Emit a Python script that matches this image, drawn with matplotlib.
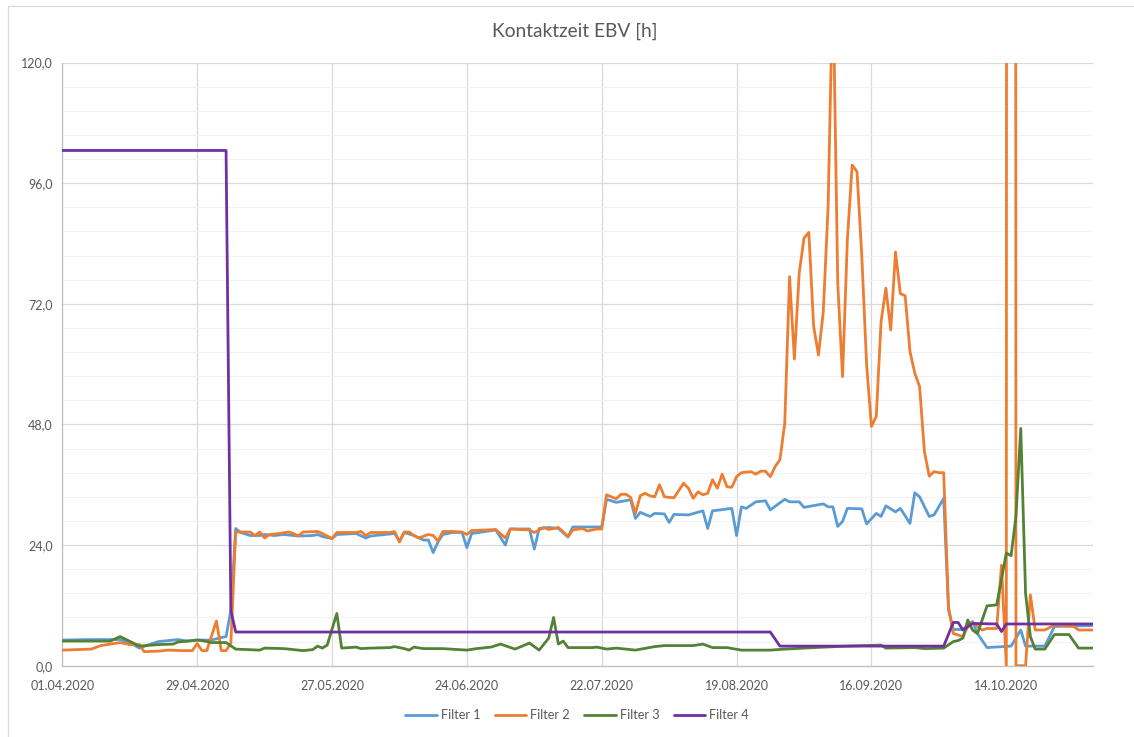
import numpy as np
import matplotlib
matplotlib.use("Agg")
import matplotlib.pyplot as plt
import matplotlib.dates as mdates
from matplotlib.patches import Rectangle
from matplotlib.ticker import MultipleLocator, FuncFormatter

plt.rcParams['font.family'] = ['Lato', 'DejaVu Sans']

title = "Kontaktzeit EBV [h]"
start = np.datetime64('2020-04-01')
series_names = ["Filter 1", "Filter 2", "Filter 3", "Filter 4"]
series_colors = ["#5B9BD5", "#ED7D31", "#548235", "#7030A0"]

# day offsets from 01.04.2020 and values (h)
f1_days = [0, 6, 12, 14, 16, 18, 20, 24, 26, 28, 31, 33, 34, 35, 36, 37, 39, 41, 42, 44, 46, 48, 49, 52, 53, 54, 56, 57,
           61, 63, 64, 67, 69, 70, 71, 73, 75, 76, 77, 78, 79, 81, 83, 84, 85, 90, 92, 93, 97, 98, 99, 101, 103, 105,
           106, 111, 112, 113, 115, 118, 119, 120, 122, 123, 125, 126, 127, 130, 133, 134, 135, 139, 140, 141, 142,
           144, 146, 147, 150, 151, 153, 154, 158, 159, 160, 161, 162, 163, 166, 167, 169, 170, 171, 173, 174, 176,
           177, 178, 180, 181, 183, 184, 185, 187, 189, 190, 192, 197, 199, 200, 204, 206, 214]
f1_vals = [5.1, 5.2, 5.2, 4.6, 3.5, 4.2, 4.8, 5.2, 4.9, 5.1, 5.1, 5.6, 5.8, 11.0, 27.3, 26.5, 25.9, 25.9, 26.1, 25.9,
           26.1, 25.9, 25.8, 25.9, 26.1, 25.7, 25.3, 26.1, 26.3, 25.4, 25.8, 26.1, 26.3, 24.8, 26.5, 25.9, 25.0, 25.0,
           22.5, 24.6, 26.1, 26.5, 26.5, 23.5, 26.3, 27.0, 24.0, 27.2, 27.2, 23.2, 27.3, 27.5, 27.3, 25.6, 27.6, 27.6,
           27.6, 33.1, 32.5, 33.0, 29.3, 30.5, 29.7, 30.3, 30.2, 28.5, 30.1, 30.0, 30.8, 27.3, 30.8, 31.3, 25.9, 31.6,
           31.3, 32.6, 32.8, 31.0, 33.1, 32.6, 32.6, 31.5, 32.2, 31.6, 31.6, 27.7, 28.7, 31.3, 31.2, 28.2, 30.3, 29.7,
           31.8, 30.6, 31.3, 28.3, 34.4, 33.6, 29.7, 30.0, 33.3, 11.1, 7.2, 7.2, 8.8, 6.4, 3.6, 3.9, 7.1, 3.9, 3.9,
           7.8, 8.0]

f2_days = [0, 3, 6, 8, 10, 12, 14, 16, 17, 20, 22, 25, 27, 28, 29, 30, 32, 33, 34, 35, 36, 39, 40, 41, 42, 43, 45, 47,
           48, 49, 50, 53, 54, 56, 57, 61, 62, 63, 64, 68, 69, 70, 71, 72, 73, 74, 76, 77, 78, 79, 81, 83, 84, 85, 88,
           90, 92, 93, 97, 98, 100, 101, 103, 105, 106, 108, 109, 111, 112, 113, 115, 116, 117, 118, 119, 120, 121,
           122, 123, 124, 125, 127, 129, 130, 131, 132, 133, 134, 135, 136, 137, 138, 139, 140, 141, 143, 144, 145,
           146, 147, 148, 149, 150, 151, 152, 153, 154, 155, 156, 157, 158, 159, 160, 161, 162, 163, 164, 165, 166,
           167, 168, 169, 170, 171, 172, 173, 174, 175, 176, 177, 178, 179, 180, 181, 182, 183, 184, 185, 187, 188,
           189, 191, 192, 194, 195, 196, 197, 198, 199, 200, 201, 202, 204, 206, 210, 211, 214]
f2_vals = [3.1, 3.2, 3.3, 4.0, 4.3, 4.6, 4.2, 4.2, 2.8, 2.9, 3.1, 3.0, 3.0, 4.4, 3.0, 3.0, 8.9, 3.0, 3.0, 4.5, 26.6,
           26.6, 25.9, 26.6, 25.4, 26.1, 26.3, 26.6, 26.3, 25.8, 26.6, 26.7, 26.3, 25.3, 26.5, 26.5, 26.7, 25.9, 26.5,
           26.5, 26.7, 24.6, 26.6, 26.6, 25.9, 25.4, 26.1, 25.9, 24.8, 26.7, 26.7, 26.6, 26.1, 26.9, 27.0, 27.1, 25.4,
           27.2, 27.0, 26.5, 27.5, 27.1, 27.5, 25.7, 27.0, 27.3, 26.8, 27.2, 27.2, 34.0, 33.2, 34.1, 34.1, 33.5, 30.3,
           33.8, 34.3, 33.8, 33.6, 36.0, 33.6, 33.4, 36.3, 35.3, 33.3, 34.6, 34.0, 34.3, 37.0, 35.3, 38.1, 35.6, 35.5,
           37.6, 38.4, 38.6, 38.1, 38.7, 38.7, 37.6, 39.6, 41.0, 48.2, 77.4, 61.0, 78.1, 85.1, 86.2, 67.5, 61.8, 70.4,
           91.3, 137.0, 76.1, 57.5, 84.8, 99.6, 98.3, 81.4, 59.8, 47.6, 49.6, 68.5, 75.1, 66.8, 82.3, 74.0, 73.6, 62.5,
           58.2, 55.5, 42.6, 37.7, 38.6, 38.4, 38.4, 11.7, 6.4, 5.8, 7.8, 8.6, 7.1, 7.4, 7.4, 20.0, 0.0, 3000.0, 0.0,
           0.0, 0.0, 14.1, 7.1, 7.1, 8.1, 7.8, 7.1, 7.1]

f3_days = [0, 6, 10, 12, 16, 20, 23, 24, 28, 29, 31, 34, 36, 41, 42, 46, 50, 52, 53, 54, 55, 57, 58, 61, 62, 64, 68, 69,
           71, 72, 73, 75, 79, 84, 86, 89, 91, 94, 97, 99, 101, 102, 103, 104, 105, 110, 111, 113, 115, 119, 123, 125,
           131, 133, 135, 138, 141, 147, 150, 156, 163, 170, 171, 177, 179, 183, 185, 186, 187, 188, 189, 190, 192,
           194, 196, 197, 198, 199, 200, 201, 202, 204, 206, 209, 211, 214]
f3_vals = [4.9, 4.9, 4.9, 5.8, 3.9, 4.2, 4.3, 4.7, 5.1, 5.0, 4.6, 4.6, 3.3, 3.1, 3.5, 3.4, 3.0, 3.2, 3.9, 3.5, 4.1,
           10.4, 3.5, 3.7, 3.4, 3.5, 3.6, 3.8, 3.4, 3.1, 3.7, 3.4, 3.4, 3.1, 3.4, 3.7, 4.3, 3.3, 4.5, 3.1, 5.5, 9.6,
           4.3, 4.9, 3.6, 3.6, 3.7, 3.3, 3.5, 3.1, 3.8, 4.0, 4.0, 4.3, 3.6, 3.6, 3.1, 3.1, 3.3, 3.6, 3.9, 4.1, 3.5,
           3.6, 3.4, 3.5, 4.8, 5.0, 5.5, 9.1, 7.1, 6.4, 11.9, 12.1, 22.4, 21.9, 29.7, 47.2, 14.4, 5.8, 3.3, 3.3, 6.2,
           6.2, 3.5, 3.5]

f4_days = [0, 34, 35, 36, 147, 149, 183, 185, 186, 187, 189, 194, 195, 196, 214]
f4_vals = [102.5, 102.5, 11.0, 6.7, 6.7, 3.9, 3.9, 8.6, 8.6, 7.1, 8.4, 8.3, 6.8, 8.3, 8.3]

x_tick_days = [0, 28, 56, 84, 112, 140, 168, 196]
x_end_day = 214
y_ticks = [0, 24, 48, 72, 96, 120]

W, H = 1134, 737
fig = plt.figure(figsize=(W / 100, H / 100), dpi=100)
L, R, T, B = 62.3, 1093.0, 62.5, 665.7
ax = fig.add_axes([L / W, 1 - B / H, (R - L) / W, (B - T) / H])

def to_dates(days):
    return start + np.array(days, dtype='timedelta64[D]')

all_days = [f1_days, f2_days, f3_days, f4_days]
all_vals = [f1_vals, f2_vals, f3_vals, f4_vals]
for d, v, name, c in zip(all_days, all_vals, series_names, series_colors):
    ax.plot(to_dates(d), v, color=c, lw=2.0, label=name, solid_joinstyle='round',
            solid_capstyle='round', zorder=3)

ax.set_ylim(0, 120)
ax.set_xlim(start, start + np.timedelta64(x_end_day, 'D'))
ax.set_yticks(y_ticks)
ax.yaxis.set_minor_locator(MultipleLocator(4.8))
ax.yaxis.set_major_formatter(FuncFormatter(lambda v, p: f"{v:.1f}".replace('.', ',')))
ax.set_xticks(to_dates(x_tick_days))
ax.xaxis.set_major_formatter(mdates.DateFormatter('%d.%m.%Y'))

ax.grid(which='major', axis='both', color='#D9D9D9', lw=0.9, zorder=0)
ax.grid(which='minor', axis='y', color='#F2F2F2', lw=0.9, zorder=0)
ax.set_axisbelow(True)
for s in ['top', 'right']:
    ax.spines[s].set_visible(False)
for s in ['left', 'bottom']:
    ax.spines[s].set_color('#BFBFBF')
    ax.spines[s].set_linewidth(0.9)
ax.tick_params(axis='both', which='both', length=0, labelsize=9, labelcolor='#595959')
ax.tick_params(axis='y', pad=7)
ax.tick_params(axis='x', pad=10)

fig.text(575 / W, 1 - 31 / H, title, ha='center', va='center', fontsize=13.8, color='#595959')

leg = fig.legend(loc='center', bbox_to_anchor=(577 / W, 1 - 715 / H), ncol=4, frameon=False,
                 fontsize=9.2, handlelength=2.5, handletextpad=0.3, columnspacing=1.1)
for t in leg.get_texts():
    t.set_color('#595959')

fig.add_artist(Rectangle((7.5 / W, -0.1), 2.0, 1.1 - 6 / H, transform=fig.transFigure,
                         fill=False, edgecolor='#D9D9D9', lw=0.9))

fig.savefig('out.png', dpi=100, facecolor='white')
